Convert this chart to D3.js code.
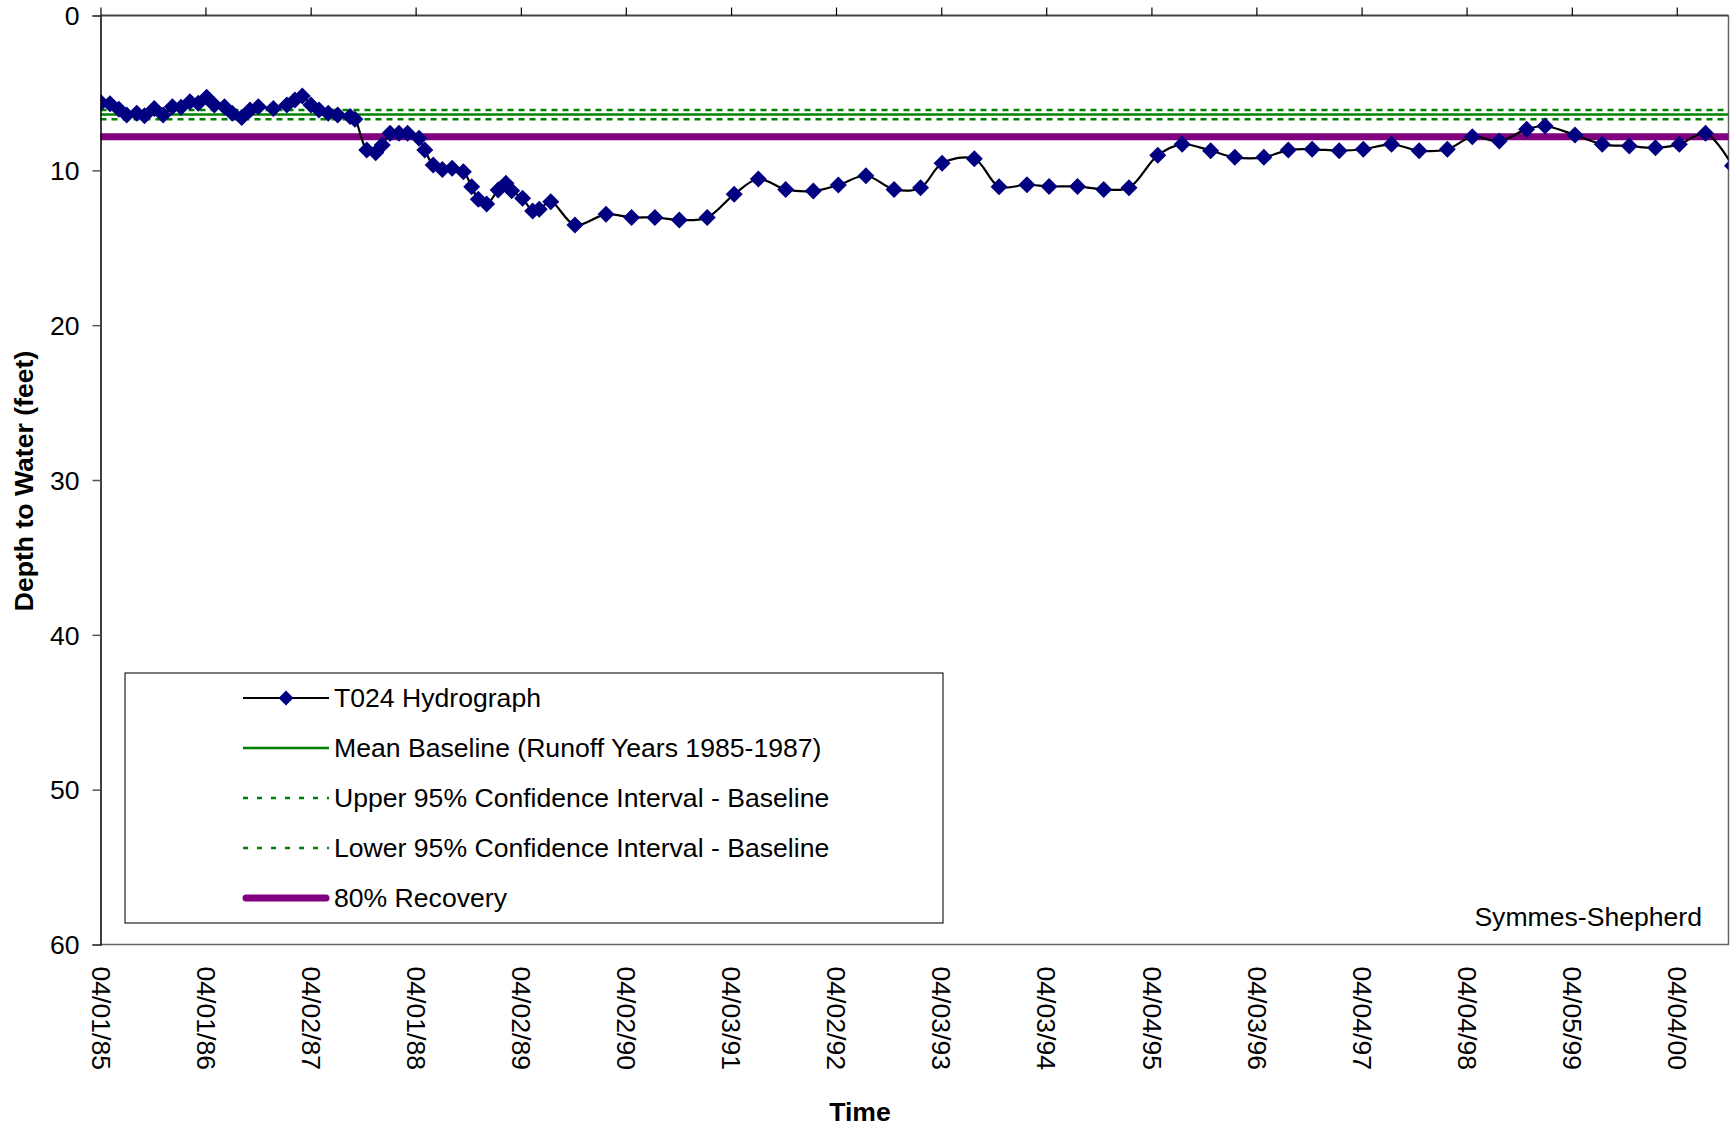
<!DOCTYPE html>
<meta charset="utf-8" />
<title>T024 Hydrograph - Symmes-Shepherd</title>
<style>
  body {
    margin: 0;
    background: #fff;
  }
  text {
    font-family: "Liberation Sans", Arial, sans-serif;
    font-size: 26.6px;
    fill: #000;
  }
  .axis-title {
    font-weight: bold;
  }
  line.baseline {
    stroke: #008000;
    stroke-width: 2.5px;
  }
  line.recovery {
    stroke: #800080;
    stroke-width: 7px;
  }
  path.hydro {
    fill: none;
    stroke: #000;
    stroke-width: 2.2px;
  }
  path.marker {
    fill: #000080;
  }
</style>

<body>
  <svg width="1732" height="1129"></svg>

  <script src="https://d3js.org/d3.v7.min.js"></script>
  <script>
    // T024 hydrograph readings (date, depth to water in feet)
    const dates = [
      "1985-04-03", "1985-05-04", "1985-06-04", "1985-07-01", "1985-08-05", "1985-09-01",
      "1985-10-05", "1985-11-05", "1985-12-07", "1986-01-06", "1986-02-06", "1986-03-07",
      "1986-04-05", "1986-05-02", "1986-06-06", "1986-07-03", "1986-08-05", "1986-09-03",
      "1986-10-02", "1986-11-23", "1987-01-09", "1987-02-06", "1987-03-04", "1987-04-03",
      "1987-05-01", "1987-06-02", "1987-07-05", "1987-08-17", "1987-09-03", "1987-10-14",
      "1987-11-14", "1987-12-07", "1988-01-03", "1988-02-03", "1988-03-04", "1988-04-13",
      "1988-05-03", "1988-06-01", "1988-07-03", "1988-08-06", "1988-09-14", "1988-10-13",
      "1988-11-05", "1988-12-04", "1989-01-13", "1989-02-09", "1989-03-01", "1989-04-08",
      "1989-05-13", "1989-06-05", "1989-07-15", "1989-10-07", "1990-01-23", "1990-04-22",
      "1990-07-12", "1990-10-05", "1991-01-10", "1991-04-14", "1991-07-07", "1991-10-10",
      "1992-01-14", "1992-04-10", "1992-07-15", "1992-10-21", "1993-01-21", "1993-04-06",
      "1993-07-27", "1993-10-21", "1994-01-26", "1994-04-13", "1994-07-21", "1994-10-20",
      "1995-01-16", "1995-04-26", "1995-07-20", "1995-10-27", "1996-01-19", "1996-04-29",
      "1996-07-23", "1996-10-14", "1997-01-16", "1997-04-10", "1997-07-17", "1997-10-21",
      "1998-01-27", "1998-04-24", "1998-07-27", "1998-10-30", "1999-01-02", "1999-04-16",
      "1999-07-20", "1999-10-22", "2000-01-21", "2000-04-13", "2000-07-13", "2000-10-15"
    ];
    const depths = [
      5.63, 5.7, 6.06, 6.43, 6.32, 6.47,
      6.0, 6.43, 5.89, 5.93, 5.57, 5.67,
      5.28, 5.78, 5.89, 6.32, 6.58, 6.1,
      5.89, 6.0, 5.78, 5.46, 5.2, 5.78,
      6.1, 6.32, 6.43, 6.53, 6.7, 8.69,
      8.86, 8.37, 7.61, 7.61, 7.61, 7.93,
      8.69, 9.66, 9.94, 9.87, 10.09, 11.06,
      11.87, 12.18, 11.27, 10.84, 11.32, 11.81,
      12.63, 12.52, 12.03, 13.53, 12.84, 13.04,
      13.04, 13.21, 13.04, 11.55, 10.56, 11.23,
      11.34, 10.95, 10.35, 11.23, 11.12, 9.55,
      9.25, 11.06, 10.93, 11.04, 11.04, 11.23,
      11.12, 9.03, 8.32, 8.73, 9.16, 9.16,
      8.69, 8.64, 8.73, 8.64, 8.32, 8.73,
      8.64, 7.83, 8.11, 7.35, 7.14, 7.72,
      8.32, 8.43, 8.54, 8.32, 7.61, 9.7
    ];

    // Reference levels (feet)
    const meanBaseline = 6.4;
    const upperCI = 6.1;
    const lowerCI = 6.7;
    const recovery80 = 7.83;

    // Axis ticks
    const tickDates = [
      "1985-04-01", "1986-04-01", "1987-04-02", "1988-04-01", "1989-04-02", "1990-04-02",
      "1991-04-03", "1992-04-02", "1993-04-03", "1994-04-03", "1995-04-04", "1996-04-03",
      "1997-04-04", "1998-04-04", "1999-04-05", "2000-04-04"
    ];
    const depthTicks = [0, 10, 20, 30, 40, 50, 60];
    const dateRange = ["1985-04-01", "2000-10-01"];

    const legendItems = [
      { label: "T024 Hydrograph", type: "hydro" },
      { label: "Mean Baseline (Runoff Years 1985-1987)", type: "mean" },
      { label: "Upper 95% Confidence Interval - Baseline", type: "ci" },
      { label: "Lower 95% Confidence Interval - Baseline", type: "ci" },
      { label: "80% Recovery", type: "recovery" }
    ];

    const parse = d3.utcParse("%Y-%m-%d");
    const fmt = d3.utcFormat("%m/%d/%y");

    const svg = d3.select("svg");
    const plotL = 100.5, plotR = 1728.5, plotT = 15.5, plotB = 944.5;

    const x = d3.scaleUtc()
      .domain(dateRange.map(parse))
      .range([plotL, plotR]);

    // depth grows downward
    const y = d3.scaleLinear()
      .domain([0, 60])
      .range([plotT, plotB]);

    const readings = dates.map((d, i) => ({ date: parse(d), depth: depths[i] }));

    svg.append("clipPath")
      .attr("id", "plot-clip")
      .append("rect")
      .attr("x", plotL)
      .attr("y", plotT)
      .attr("width", plotR - plotL)
      .attr("height", plotB - plotT);

    // frame (right + bottom)
    svg.append("path")
      .attr("d", `M${plotL},${plotB}H${plotR}V${plotT}`)
      .attr("fill", "none")
      .attr("stroke", "#666")
      .attr("stroke-width", 1.5);

    // baseline + CI lines
    const hline = (val, cls, dash) => {
      const l = svg.append("line")
        .attr("class", cls)
        .attr("x1", plotL)
        .attr("x2", plotR)
        .attr("y1", y(val))
        .attr("y2", y(val));
      if (dash) l.attr("stroke-dasharray", dash);
      return l;
    };
    hline(upperCI, "baseline", "6,5");
    hline(meanBaseline, "baseline");
    hline(lowerCI, "baseline", "6,5");
    hline(recovery80, "recovery");

    // hydrograph
    const plot = svg.append("g").attr("clip-path", "url(#plot-clip)");

    const line = d3.line()
      .x(d => x(d.date))
      .y(d => y(d.depth))
      .curve(d3.curveCatmullRom.alpha(0.5));

    plot.append("path")
      .datum(readings)
      .attr("class", "hydro")
      .attr("d", line);

    const diamond = r => `M0,${-r}L${r},0L0,${r}L${-r},0Z`;

    plot.selectAll("path.marker")
      .data(readings)
      .join("path")
      .attr("class", "marker")
      .attr("d", diamond(8.5))
      .attr("transform", d => `translate(${x(d.date)},${y(d.depth)})`);

    // y axis
    const yAxis = svg.append("g")
      .attr("transform", `translate(${plotL},0)`)
      .call(d3.axisLeft(y).tickValues(depthTicks).tickSize(8).tickPadding(13));
    yAxis.select(".domain").attr("stroke", "#000").attr("stroke-width", 1.5);
    yAxis.selectAll(".tick line").attr("stroke", "#555").attr("stroke-width", 1.5);
    yAxis.selectAll("text").style("font-size", "26.6px").attr("dy", "0.35em");

    // top axis: tick marks only
    const xTop = svg.append("g")
      .attr("transform", `translate(0,${plotT})`)
      .call(d3.axisTop(x).tickValues(tickDates.map(parse)).tickSize(8).tickFormat(""));
    xTop.select(".domain").attr("d", `M${plotL},0H${plotR}`).attr("stroke", "#444").attr("stroke-width", 2);
    xTop.selectAll(".tick line").attr("stroke", "#000").attr("stroke-width", 1.2);

    // bottom labels
    const xBot = svg.append("g")
      .attr("transform", `translate(0,${plotB})`)
      .call(d3.axisBottom(x).tickValues(tickDates.map(parse)).tickSize(0).tickFormat(fmt));
    xBot.select(".domain").remove();
    xBot.selectAll("text")
      .style("font-size", "26.6px")
      .attr("transform", "rotate(90)")
      .attr("x", 22)
      .attr("y", 0)
      .attr("dy", "0.35em")
      .attr("text-anchor", "start");

    // axis titles
    svg.append("text")
      .attr("class", "axis-title")
      .attr("x", 860)
      .attr("y", 1112)
      .attr("dy", "0.35em")
      .attr("text-anchor", "middle")
      .text("Time");

    svg.append("text")
      .attr("class", "axis-title")
      .attr("transform", "translate(24,481) rotate(-90)")
      .attr("dy", "0.35em")
      .attr("text-anchor", "middle")
      .text("Depth to Water (feet)");

    svg.append("text")
      .attr("x", 1702)
      .attr("y", 917)
      .attr("dy", "0.35em")
      .attr("text-anchor", "end")
      .text("Symmes-Shepherd");

    // legend
    const legend = svg.append("g");
    legend.append("rect")
      .attr("x", 125)
      .attr("y", 673)
      .attr("width", 818)
      .attr("height", 250)
      .attr("fill", "#fff")
      .attr("stroke", "#222")
      .attr("stroke-width", 1.2);

    const rows = legend.selectAll("g.item")
      .data(legendItems)
      .join("g")
      .attr("class", "item")
      .attr("transform", (d, i) => `translate(0,${698 + i * 50})`);

    rows.each(function (d) {
      const g = d3.select(this);
      if (d.type === "hydro") {
        g.append("line").attr("x1", 243).attr("x2", 329).attr("stroke", "#000").attr("stroke-width", 2.2);
        g.append("path").attr("class", "marker").attr("d", diamond(7.5)).attr("transform", "translate(286,0)");
      } else if (d.type === "mean") {
        g.append("line").attr("x1", 243).attr("x2", 329).attr("stroke", "#008000").attr("stroke-width", 2.5);
      } else if (d.type === "ci") {
        g.append("line").attr("x1", 243).attr("x2", 329).attr("stroke", "#008000")
          .attr("stroke-width", 2.5).attr("stroke-dasharray", "5,9");
      } else {
        g.append("line").attr("x1", 246).attr("x2", 326).attr("stroke", "#800080")
          .attr("stroke-width", 7).attr("stroke-linecap", "round");
      }
      g.append("text")
        .attr("x", 334)
        .attr("dy", "0.35em")
        .text(d.label);
    });
  </script>
</body>
